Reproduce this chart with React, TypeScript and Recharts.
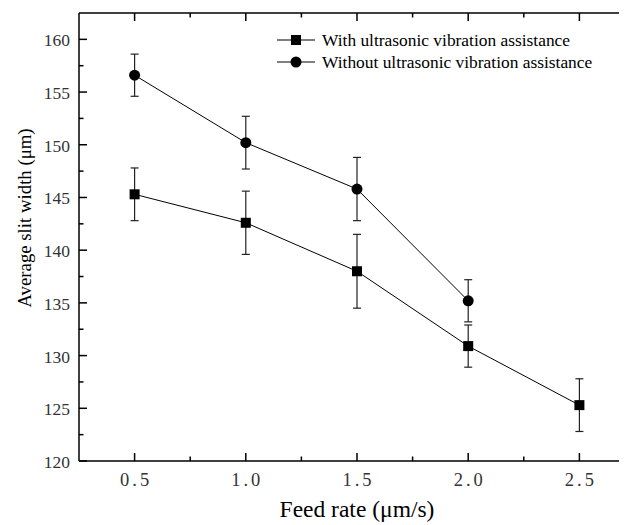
import { LineChart, Line, XAxis, YAxis, ErrorBar, Legend, Label } from "recharts";

const feedRates = [0.5, 1.0, 1.5, 2.0, 2.5];
const withUv = [145.3, 142.6, 138.0, 130.9, 125.3];
const withUvErr = [2.5, 3.0, 3.5, 2.0, 2.5];
const withoutRates = [0.5, 1.0, 1.5, 2.0];
const withoutUv = [156.6, 150.2, 145.8, 135.2];
const withoutUvErr = [2.0, 2.5, 3.0, 2.0];

const xMajor = [0.5, 1.0, 1.5, 2.0, 2.5];
const xMinor = [0.75, 1.25, 1.75, 2.25];
const yMajor = [120, 125, 130, 135, 140, 145, 150, 155, 160];
const yMinor = [122.5, 127.5, 132.5, 137.5, 142.5, 147.5, 152.5, 157.5];

const withData = feedRates.map((x, i) => ({ x, y: withUv[i], err: withUvErr[i] }));
const withoutData = withoutRates.map((x, i) => ({ x, y: withoutUv[i], err: withoutUvErr[i] }));

const serif = "'Liberation Serif', 'Times New Roman', serif";
const xTicks = [...xMajor, ...xMinor].sort((a, b) => a - b);
const yTicks = [...yMajor, ...yMinor].sort((a, b) => a - b);
const PLOT_TOP = 5;

// bottom axis ticks, also draws the inward ticks on the top frame line
function BottomTick(props: any) {
  const { x, y, payload } = props;
  const major = xMajor.includes(payload.value);
  const len = major ? 8 : 4.5;
  return (
    <g>
      <path d={`M${x},${y}L${x},${y - len}M${x},${PLOT_TOP}L${x},${PLOT_TOP + len}`} stroke="#000" strokeWidth={1.5} />
      {major && (
        <text x={x + 1.5} y={y + 19} textAnchor="middle" dominantBaseline="central" fontFamily={serif} fontSize={18.5} fill="#333" letterSpacing={3}>
          {payload.value.toFixed(1)}
        </text>
      )}
    </g>
  );
}

function LeftTick(props: any) {
  const { x, y, payload } = props;
  const major = yMajor.includes(payload.value);
  return (
    <g>
      <path d={`M${x},${y}L${Number(x) + (major ? 8 : 4.5)},${y}`} stroke="#000" strokeWidth={1.5} />
      {major && (
        <text x={x - 9} y={y + 1} textAnchor="end" dominantBaseline="central" fontFamily={serif} fontSize={17.5} fill="#333">
          {payload.value}
        </text>
      )}
    </g>
  );
}

function Square(props: any) {
  const { cx, cy } = props;
  if (cx == null || cy == null) return null;
  return <rect x={cx - 5} y={cy - 5} width={10} height={10} fill="#000" />;
}

function LegendBox() {
  const rows = [
    { label: "With ultrasonic vibration assistance", shape: "square" },
    { label: "Without ultrasonic vibration assistance", shape: "circle" },
  ];
  return (
    <div style={{ fontFamily: serif, fontSize: 17.4, color: "#000" }}>
      {rows.map((r) => (
        <div key={r.label} style={{ display: "flex", alignItems: "center", height: 22 }}>
          <svg width={40} height={14} style={{ marginRight: 5 }}>
            <path d="M0,7L38,7" stroke="#000" strokeWidth={1.2} />
            {r.shape === "square" ? (
              <rect x={14} y={2} width={10} height={10} fill="#000" />
            ) : (
              <circle cx={19} cy={7} r={5.5} fill="#000" />
            )}
          </svg>
          <span style={{ whiteSpace: "nowrap" }}>{r.label}</span>
        </div>
      ))}
    </div>
  );
}

export default function App() {
  return (
    <div style={{ width: 619, height: 517, overflow: "hidden", background: "#fff" }}>
      <LineChart width={640} height={517} margin={{ top: PLOT_TOP - 1, right: 13, bottom: 0, left: 0 }}>
        <XAxis
          xAxisId="top"
          orientation="top"
          type="number"
          dataKey="x"
          domain={[0.25, 2.75]}
          height={1}
          tick={false}
          tickLine={false}
          axisLine={{ stroke: "#000", strokeWidth: 1.5 }}
        />
        <XAxis
          type="number"
          dataKey="x"
          domain={[0.25, 2.75]}
          ticks={xTicks}
          interval={0}
          height={64}
          tickSize={0}
          tickMargin={0}
          tickLine={false}
          tick={<BottomTick />}
          axisLine={{ stroke: "#000", strokeWidth: 1.5 }}
        >
          <Label
            content={(p: any) => {
              const vb = p.viewBox;
              return (
                <text x={vb.x + vb.width / 2} y={vb.y + 56} textAnchor="middle" fontFamily={serif} fontSize={23.5} fill="#000">
                  Feed rate (μm/s)
                </text>
              );
            }}
          />
        </XAxis>
        <YAxis
          type="number"
          domain={[120, 162.5]}
          ticks={yTicks}
          interval={0}
          width={71}
          tickSize={0}
          tickMargin={0}
          tickLine={false}
          tick={<LeftTick />}
          axisLine={{ stroke: "#000", strokeWidth: 1.5 }}
          allowDataOverflow
        >
          <Label
            content={(p: any) => {
              const vb = p.viewBox;
              const cx = vb.x + 16;
              const cy = vb.y + vb.height / 2 - 19;
              return (
                <text x={cx} y={cy} transform={`rotate(-90 ${cx} ${cy})`} textAnchor="middle" dominantBaseline="central" fontFamily={serif} fontSize={18.8} fill="#000">
                  Average slit width (μm)
                </text>
              );
            }}
          />
        </YAxis>
        <Legend
          layout="vertical"
          align="center"
          verticalAlign="middle"
          content={() => <LegendBox />}
          wrapperStyle={{ top: 21, left: 269, width: "auto" }}
        />
        <Line
          data={withData}
          dataKey="y"
          name="With ultrasonic vibration assistance"
          stroke="#000"
          strokeWidth={1}
          dot={<Square />}
          activeDot={false}
          isAnimationActive={false}
        >
          <ErrorBar dataKey="err" direction="y" width={4} stroke="#222" strokeWidth={1.2} />
        </Line>
        <Line
          data={withoutData}
          dataKey="y"
          name="Without ultrasonic vibration assistance"
          stroke="#000"
          strokeWidth={1}
          dot={{ r: 5.5, fill: "#000", stroke: "#000", strokeWidth: 0 }}
          activeDot={false}
          isAnimationActive={false}
        >
          <ErrorBar dataKey="err" direction="y" width={4} stroke="#222" strokeWidth={1.2} />
        </Line>
      </LineChart>
    </div>
  );
}
